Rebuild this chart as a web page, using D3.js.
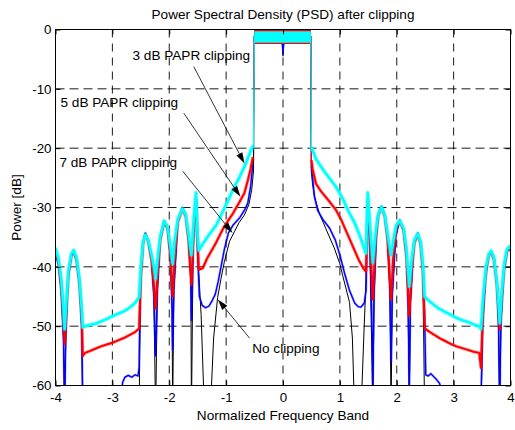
<!DOCTYPE html>
<html>
<head>
<meta charset="utf-8">
<script src="https://cdn.jsdelivr.net/npm/d3@7"></script>
<style>
  body { margin: 0; background: #fff; }
  text { font-family: "Liberation Sans", Arial, sans-serif; }
</style>
</head>
<body>
<div id="chart"></div>
<script>
// axis ticks
var freqTicks = [-4, -3, -2, -1, 0, 1, 2, 3, 4];
var powerTicks = [-60, -50, -40, -30, -20, -10, 0];

// PSD traces, [normalized frequency, dB]
var noClip = [
  [-4.00,-38],[-3.95,-39.5],[-3.90,-44],[-3.86,-52],[-3.84,-65],[-3.82,-52],[-3.78,-42],[-3.72,-38.2],[-3.68,-37.5],[-3.63,-39],[-3.58,-43],[-3.54,-50],[-3.52,-65],
  [-2.53,-65],[-2.52,-55],[-2.50,-41],[-2.46,-36],[-2.42,-34.3],[-2.37,-35.5],[-2.31,-39],[-2.27,-45],[-2.24,-65],[-2.21,-44],[-2.16,-35.5],[-2.09,-32.2],[-2.03,-33.4],[-1.98,-38.5],[-1.95,-47],[-1.94,-65],[-1.92,-44],[-1.85,-32.2],[-1.77,-30],[-1.71,-31.2],[-1.66,-35.5],[-1.62,-42],[-1.61,-65],[-1.58,-36],[-1.53,-28.5],
  [-1.50,-38],[-1.44,-48],[-1.38,-65],[-1.28,-65],[-1.22,-52],[-1.15,-45.2],[-1.09,-42],[-1.03,-39.1],[-0.94,-35.7],[-0.85,-34],[-0.77,-32.5],[-0.68,-31.3],[-0.60,-29.5],[-0.55,-27],[-0.52,-24],
  [-0.51,-10],[-0.505,-1.3],[-0.02,-1.3],[0,-4.5],[0.02,-1.3],[0.49,-1.3],[0.495,-10],[0.50,-24],
  [0.52,-26],[0.56,-28.5],[0.64,-31],[0.75,-33.5],[0.90,-36.8],[1.00,-39.5],[1.05,-41.5],[1.17,-46],[1.22,-52],[1.26,-65],[1.37,-65],[1.42,-52],[1.46,-42],[1.49,-28.5],
  [1.53,-37],[1.58,-65],[1.60,-45],[1.64,-35],[1.68,-31],[1.73,-29.8],[1.79,-31.3],[1.84,-35.5],[1.88,-44],[1.90,-65],[1.92,-45],[1.98,-35],[2.05,-32.1],[2.12,-33.8],[2.17,-38.5],[2.20,-46],[2.22,-65],[2.24,-46],[2.30,-36],[2.37,-34.3],[2.42,-36],[2.46,-40.5],[2.49,-65],
  [3.48,-65],[3.51,-50],[3.56,-42],[3.61,-38.3],[3.66,-37.4],[3.71,-38.6],[3.76,-43],[3.79,-50],[3.81,-65],[3.83,-50],[3.88,-41],[3.94,-37.3],[3.98,-36.9],[4.00,-37.3]
];

var clip7dB = [
  [-4.00,-38],[-3.95,-39.5],[-3.90,-44],[-3.86,-52],[-3.84,-63],[-3.82,-52],[-3.78,-42],[-3.72,-38.2],[-3.68,-37.5],[-3.63,-39],[-3.58,-43],[-3.54,-50],[-3.52,-63],
  [-2.86,-63],[-2.82,-59.5],[-2.78,-58.6],[-2.72,-58.3],[-2.66,-58.6],[-2.60,-58.2],[-2.55,-58.4],[-2.53,-57],
  [-2.52,-50],[-2.50,-41],[-2.46,-36],[-2.42,-34.3],[-2.37,-35.5],[-2.31,-39],[-2.27,-45],[-2.24,-55],[-2.21,-44],[-2.16,-35.5],[-2.09,-32.2],[-2.03,-33.4],[-1.98,-38.5],[-1.95,-47],[-1.94,-54],[-1.92,-44],[-1.85,-32.2],[-1.77,-30],[-1.71,-31.2],[-1.66,-35.5],[-1.62,-42],[-1.61,-49],[-1.58,-36],[-1.53,-28.5],
  [-1.50,-38],[-1.47,-45],[-1.42,-46.5],[-1.36,-46.9],[-1.30,-46.6],[-1.24,-45.6],[-1.19,-44.6],[-1.14,-42.5],[-1.10,-40.5],[-1.03,-37],[-0.96,-34.3],[-0.88,-33],[-0.76,-31.7],[-0.68,-30.5],[-0.62,-29.3],[-0.57,-26.5],[-0.53,-22.5],
  [-0.51,-10],[-0.505,-1.2],[-0.02,-1.2],[0,-4.3],[0.02,-1.2],[0.49,-1.2],[0.495,-10],[0.50,-23],
  [0.52,-25],[0.55,-28],[0.61,-30.5],[0.70,-32],[0.82,-33.5],[0.92,-35.5],[1.00,-38],[1.08,-41],[1.17,-44],[1.26,-46.1],[1.32,-46.7],[1.37,-46.8],[1.43,-46.1],[1.46,-44],[1.49,-28.5],
  [1.53,-37],[1.57,-52],[1.58,-60],[1.60,-45],[1.64,-35],[1.68,-31],[1.73,-29.8],[1.79,-31.3],[1.84,-35.5],[1.88,-44],[1.90,-56],[1.92,-45],[1.98,-35],[2.05,-32.1],[2.12,-33.8],[2.17,-38.5],[2.20,-46],[2.22,-60],[2.24,-46],[2.30,-36],[2.37,-34.3],[2.42,-36],[2.46,-40.5],[2.49,-48],[2.51,-58.2],
  [2.55,-58.4],[2.60,-58],[2.65,-58.5],[2.70,-59],[2.75,-59.6],[2.80,-61],[2.85,-63],[3.46,-63],
  [3.48,-63],[3.51,-50],[3.56,-42],[3.61,-38.3],[3.66,-37.4],[3.71,-38.6],[3.76,-43],[3.79,-50],[3.81,-63],[3.83,-50],[3.88,-41],[3.94,-37.3],[3.98,-36.9],[4.00,-37.3]
];

var clip5dB = [
  [-4.00,-37.5],[-3.95,-39],[-3.90,-43],[-3.86,-48.5],[-3.84,-53],[-3.81,-47],[-3.77,-41],[-3.72,-38],[-3.68,-37.4],[-3.63,-38.8],[-3.58,-42.5],[-3.54,-48],[-3.52,-55],
  [-3.48,-54.5],[-3.40,-54.2],[-3.30,-53.8],[-3.20,-53.4],[-3.10,-53.1],[-3.00,-52.8],[-2.90,-52.4],[-2.80,-52],[-2.70,-51.5],[-2.60,-51],[-2.53,-50.4],
  [-2.50,-42],[-2.46,-36],[-2.42,-34.6],[-2.37,-35.7],[-2.31,-39],[-2.27,-43],[-2.24,-47],[-2.21,-42],[-2.16,-35.5],[-2.09,-32.5],[-2.03,-33.5],[-1.98,-38],[-1.94,-45],[-1.91,-39],[-1.85,-32.5],[-1.77,-30.3],[-1.71,-31.5],[-1.66,-35.5],[-1.61,-43],[-1.57,-34],[-1.53,-28.5],[-1.50,-36],
  [-1.48,-40.5],[-1.41,-40.2],[-1.33,-38.5],[-1.24,-37],[-1.17,-35.8],[-1.05,-33.5],[-0.95,-32],[-0.88,-31],[-0.76,-29],[-0.68,-27.6],[-0.62,-25.5],[-0.57,-23.5],[-0.53,-21.5],
  [-0.51,-10],[-0.505,-1.3],[-0.02,-1.3],[0,-2.2],[0.02,-1.3],[0.49,-1.3],[0.495,-10],[0.50,-22],
  [0.52,-23.5],[0.58,-26],[0.67,-27.3],[0.80,-28.8],[0.93,-30.4],[1.02,-32],[1.12,-34.2],[1.23,-36.6],[1.33,-38.8],[1.41,-40.2],[1.46,-40.8],[1.49,-28.7],
  [1.53,-35],[1.58,-45.5],[1.62,-36.5],[1.67,-31.5],[1.73,-30],[1.79,-31.5],[1.84,-35.5],[1.90,-45.5],[1.94,-38],[1.99,-33.5],[2.05,-32.3],[2.12,-33.8],[2.17,-38],[2.22,-48.3],[2.26,-41],[2.31,-36],[2.37,-34.5],[2.42,-36.2],[2.46,-41],[2.49,-50.3],
  [2.55,-50.8],[2.65,-51.4],[2.75,-52],[2.85,-52.5],[2.95,-53],[3.05,-53.4],[3.15,-53.7],[3.25,-54],[3.35,-54.3],[3.45,-54.5],[3.48,-57],
  [3.52,-46],[3.57,-40.5],[3.62,-38],[3.66,-37.5],[3.71,-38.8],[3.76,-43],[3.80,-48.5],[3.81,-50.5],[3.84,-46],[3.89,-40],[3.94,-37.3],[3.98,-36.9],[4.00,-37.3]
];

var clip3dB = [
  [-4.00,-36.8],[-3.95,-38.5],[-3.90,-42],[-3.86,-47],[-3.84,-50.5],[-3.81,-46],[-3.77,-40.5],[-3.72,-37.8],[-3.68,-37.2],[-3.63,-38.5],[-3.58,-42],[-3.54,-47],[-3.52,-50.2],
  [-3.48,-50],[-3.40,-49.8],[-3.30,-49.6],[-3.20,-49.2],[-3.10,-48.8],[-3.00,-48.3],[-2.90,-47.9],[-2.80,-47.5],[-2.70,-46.9],[-2.60,-46.1],[-2.53,-45.1],
  [-2.50,-40],[-2.46,-35.8],[-2.42,-34.6],[-2.37,-35.5],[-2.31,-38],[-2.26,-40.5],[-2.24,-42],[-2.22,-40],[-2.16,-35],[-2.09,-32.3],[-2.03,-33.2],[-1.98,-36.5],[-1.94,-39.5],[-1.91,-36],[-1.85,-32],[-1.77,-30.2],[-1.71,-31.2],[-1.66,-34.5],[-1.61,-38],[-1.57,-32],[-1.53,-27.5],[-1.50,-35],
  [-1.48,-37.2],[-1.40,-36],[-1.30,-34.6],[-1.17,-32.9],[-1.05,-30.5],[-0.95,-28.5],[-0.88,-27],[-0.76,-24.8],[-0.65,-22.5],[-0.57,-20.5],[-0.52,-19.5],
  [-0.51,-10],[-0.505,-1.3],[-0.02,-1.3],[0,-2.0],[0.02,-1.3],[0.49,-1.3],[0.495,-10],[0.50,-19.8],
  [0.52,-20.3],[0.58,-21.8],[0.66,-23],[0.78,-24.6],[0.93,-26.5],[1.05,-28.5],[1.16,-30.8],[1.26,-32.6],[1.36,-35],[1.43,-37],[1.46,-37.7],[1.49,-27.5],
  [1.53,-33],[1.58,-39.3],[1.62,-35],[1.67,-31.3],[1.73,-29.9],[1.79,-31.3],[1.84,-34.5],[1.90,-38],[1.94,-35.5],[1.99,-33],[2.05,-32.2],[2.12,-33.5],[2.17,-37],[2.22,-43.3],[2.26,-39],[2.31,-35.5],[2.37,-34.4],[2.42,-35.8],[2.46,-39.5],[2.49,-45],
  [2.55,-45.6],[2.65,-46.4],[2.75,-47.1],[2.85,-47.6],[2.95,-48.1],[3.05,-48.6],[3.15,-49],[3.25,-49.3],[3.35,-49.7],[3.45,-50],[3.48,-50.5],
  [3.52,-45],[3.57,-40],[3.62,-37.8],[3.66,-37.3],[3.71,-38.5],[3.76,-42.5],[3.80,-47.5],[3.81,-49.5],[3.84,-45],[3.89,-39.5],[3.94,-37],[3.98,-36.6],[4.00,-37]
];

// in-band ripple, [low dB, high dB] over the occupied band
var bandEdges = [-0.505, 0.49];
var bandNoClip = [-2.0, -0.6];
var band7dB = [-2.3, 0.1];
var band5dB = [-2.45, -0.1];
var band3dB = [-2.25, -0.3];

// annotations: text anchor, arrow start, arrow tip (data units)
var noteText  = ["3 dB PAPR clipping", "5 dB PAPR clipping", "7 dB PAPR clipping", "No clipping"];
var noteAt    = [[-2.646, -5.13], [-3.912, -13.1], [-3.93, -23.2], [-0.541, -54.6]];
var noteFrom  = [[-1.569, -6.26], [-1.744, -14.1], [-1.762, -23.9], [-0.589, -52.0]];
var noteTip   = [[-0.677, -22.6], [-0.747, -28.2], [-0.888, -34.3], [-1.146, -45.5]];

// halo: a faint wider stroke under the noisy clipped spectra
var traces = [
  {data: noClip, band: bandNoClip, color: "#000000", width: 1, halo: 0},
  {data: clip7dB, band: band7dB, color: "#0000ff", width: 1.3, halo: 2.4},
  {data: clip5dB, band: band5dB, color: "#ff0000", width: 2, halo: 3.4},
  {data: clip3dB, band: band3dB, color: "#00ffff", width: 2.6, halo: 4.4}
];

var width = 515, height = 430;
var margin = {top: 29.5, left: 55.5},
    w = 455, h = 356;

var svg = d3.select("#chart").append("svg")
    .attr("width", width)
    .attr("height", height);

var g = svg.append("g").attr("transform", "translate(" + margin.left + "," + margin.top + ")");

var x = d3.scaleLinear().domain([-4, 4]).range([0, w]);
var y = d3.scaleLinear().domain([-60, 0]).range([h, 0]);

svg.append("defs").append("clipPath").attr("id", "plotclip")
  .append("rect").attr("width", w).attr("height", h);

// dashed grid
g.append("g").selectAll("line")
  .data(freqTicks.slice(1, -1))
  .enter().append("line")
    .attr("x1", d => x(d)).attr("x2", d => x(d))
    .attr("y1", 0).attr("y2", h)
    .attr("stroke", "#000").attr("stroke-width", 0.9)
    .attr("stroke-dasharray", "8,6");

g.append("g").selectAll("line")
  .data(powerTicks.slice(1, -1))
  .enter().append("line")
    .attr("x1", 0).attr("x2", w)
    .attr("y1", d => y(d)).attr("y2", d => y(d))
    .attr("stroke", "#000").attr("stroke-width", 0.9)
    .attr("stroke-dasharray", "9,5");

// traces: out-of-band part drawn wide, band edges and in-band part thin
function outOfBand(d) { return d[0] <= -0.52 || d[0] >= 0.50; }
function inBand(d) { return d[0] >= -0.52 && d[0] <= 0.50; }

var line = d3.line()
    .defined(outOfBand)
    .x(d => x(d[0]))
    .y(d => y(d[1]));

var bandLine = d3.line()
    .x(d => x(d[0]))
    .y(d => y(d[1]));

var plot = g.append("g").attr("clip-path", "url(#plotclip)");

traces.forEach(function(t) {
  if (t.halo) {
    plot.append("path")
      .datum(t.data)
      .attr("fill", "none")
      .attr("stroke", t.color)
      .attr("stroke-opacity", 0.35)
      .attr("stroke-width", t.halo)
      .attr("stroke-linejoin", "round")
      .attr("d", line);
  }
  plot.append("path")
    .datum(t.data)
    .attr("fill", "none")
    .attr("stroke", t.color)
    .attr("stroke-width", t.width)
    .attr("stroke-linejoin", "round")
    .attr("d", line);

  plot.append("path")
    .datum(t.data.filter(inBand))
    .attr("fill", "none")
    .attr("stroke", t.color)
    .attr("stroke-width", 1.2)
    .attr("d", bandLine);

  var area = d3.area()
      .x(d => x(d))
      .y0(y(t.band[0]))
      .y1(y(t.band[1]));
  plot.append("path")
    .datum(bandEdges)
    .attr("fill", t.color)
    .attr("d", area);
});

// axes with inward ticks
function fmt(d) { return String(d); }

g.append("g")
    .attr("transform", "translate(0," + h + ")")
    .call(d3.axisBottom(x).tickValues(freqTicks).tickSize(-5).tickSizeOuter(0).tickPadding(7).tickFormat(fmt))
    .call(a => a.select(".domain").remove());

g.append("g")
    .call(d3.axisTop(x).tickValues(freqTicks).tickSize(-5).tickSizeOuter(0).tickFormat(""))
    .call(a => a.select(".domain").remove());

g.append("g")
    .call(d3.axisLeft(y).tickValues(powerTicks).tickSize(-5).tickSizeOuter(0).tickPadding(4).tickFormat(fmt))
    .call(a => a.select(".domain").remove());

g.append("g")
    .attr("transform", "translate(" + w + ",0)")
    .call(d3.axisRight(y).tickValues(powerTicks).tickSize(-5).tickSizeOuter(0).tickFormat(""))
    .call(a => a.select(".domain").remove());

g.selectAll(".tick line").attr("stroke", "#000");
g.selectAll(".tick text")
    .attr("fill", "#000")
    .style("font-family", "'Liberation Sans', Arial, sans-serif")
    .style("font-size", "13.3px");

g.append("rect")
    .attr("width", w).attr("height", h)
    .attr("fill", "none").attr("stroke", "#000").attr("stroke-width", 1);

// annotation arrows
var notes = g.append("g");
noteText.forEach(function(txt, i) {
  notes.append("text")
    .attr("x", x(noteAt[i][0]))
    .attr("y", y(noteAt[i][1]))
    .style("font-size", "13.6px")
    .attr("fill", "#000")
    .text(txt);

  var x0 = x(noteFrom[i][0]), y0 = y(noteFrom[i][1]);
  var x1 = x(noteTip[i][0]), y1 = y(noteTip[i][1]);
  var dx = x1 - x0, dy = y1 - y0, len = Math.sqrt(dx * dx + dy * dy);
  var ux = dx / len, uy = dy / len;
  var headLen = 11, headHalf = 3.3;
  var bx = x1 - ux * headLen, by = y1 - uy * headLen;

  notes.append("line")
    .attr("x1", x0).attr("y1", y0)
    .attr("x2", bx).attr("y2", by)
    .attr("stroke", "#000").attr("stroke-width", 0.8);

  notes.append("path")
    .attr("d", "M" + x1 + "," + y1 +
               "L" + (bx - uy * headHalf) + "," + (by + ux * headHalf) +
               "L" + (bx + uy * headHalf) + "," + (by - ux * headHalf) + "Z")
    .attr("fill", "#000");
});

// titles
svg.append("text")
    .attr("x", margin.left + w / 2).attr("y", 18.5)
    .attr("text-anchor", "middle")
    .style("font-size", "13.6px")
    .text("Power Spectral Density (PSD) after clipping");

svg.append("text")
    .attr("x", margin.left + w / 2).attr("y", 420)
    .attr("text-anchor", "middle")
    .style("font-size", "13.6px")
    .text("Normalized Frequency Band");

svg.append("text")
    .attr("transform", "translate(21," + (margin.top + h / 2) + ") rotate(-90)")
    .attr("text-anchor", "middle")
    .style("font-size", "13.6px")
    .text("Power [dB]");
</script>
</body>
</html>
